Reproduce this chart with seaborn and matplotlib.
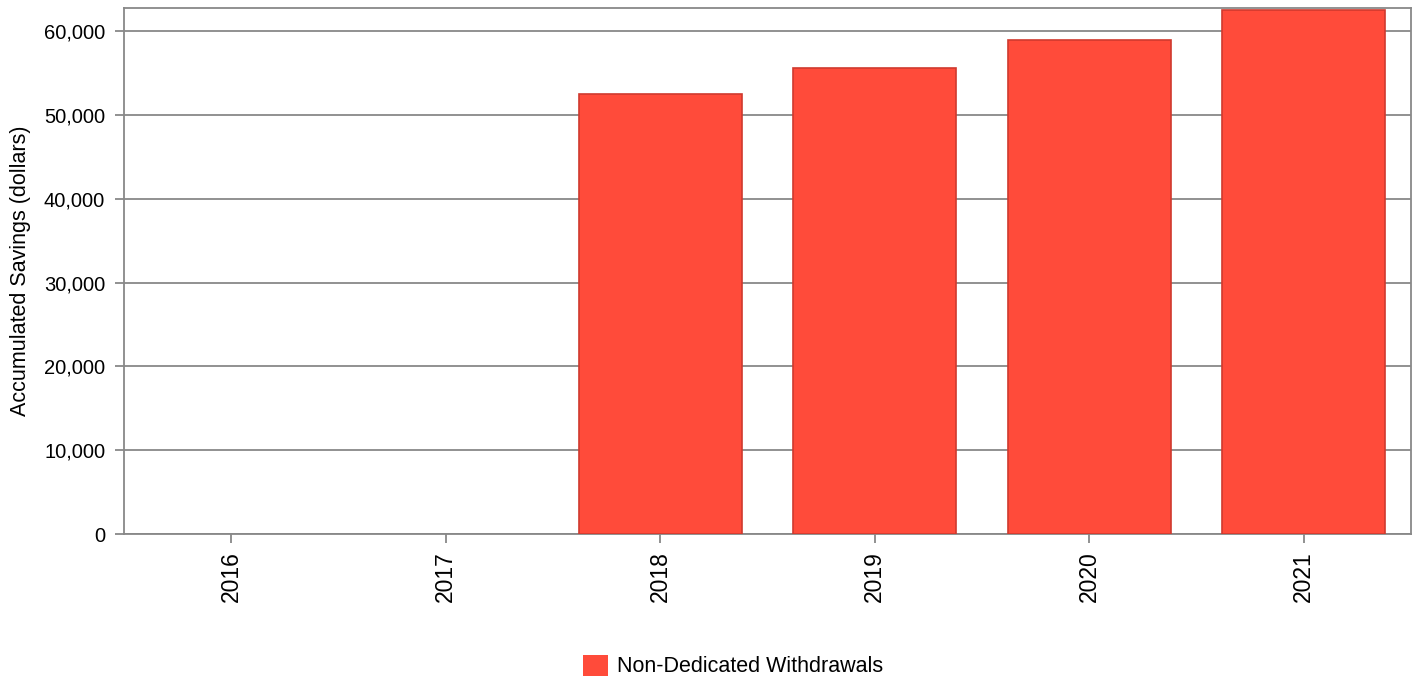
import matplotlib
matplotlib.use("Agg")
import matplotlib.pyplot as plt
import seaborn as sns
import pandas as pd
from matplotlib.ticker import FuncFormatter

years = ["2016", "2017", "2018", "2019", "2020", "2021"]
savings = [0, 0, 52450, 55550, 58890, 62470]
series = "Non-Dedicated Withdrawals"
yticks = [0, 10000, 20000, 30000, 40000, 50000, 60000]

df = pd.DataFrame({"year": years, "value": savings, "series": [series] * len(years)})

sns.set_theme(style="white")
plt.rcParams["font.family"] = ["Liberation Sans", "DejaVu Sans"]
plt.rcParams["text.color"] = "black"

fig = plt.figure(figsize=(14.15, 6.77), dpi=100)
ax = fig.add_axes([0.0876, 0.2112, 0.9094, 0.7768])

sns.barplot(data=df, x="year", y="value", hue="series", palette=["#FF4B3A"],
            saturation=1, width=0.76, edgecolor="#D0392E", linewidth=1.2,
            ax=ax, zorder=3, legend=True)
for p in ax.patches:
    if p.get_height() == 0:
        p.set_linewidth(0)

ax.set_xlim(-0.5, 5.5)
ax.set_ylim(0, 62750)
ax.set_yticks(yticks)
ax.yaxis.set_major_formatter(FuncFormatter(lambda v, p: f"{int(v):,}"))
ax.grid(axis="y", color="#888888", linewidth=1.3, zorder=0)
ax.set_axisbelow(True)
for s in ax.spines.values():
    s.set_color("#888888")
    s.set_linewidth(1.3)
ax.tick_params(axis="both", which="both", length=6.5, width=1.3, color="#888888",
               labelcolor="black", bottom=True, left=True)
ax.tick_params(axis="y", labelsize=14.5, pad=7)
ax.tick_params(axis="x", labelrotation=90, labelsize=16.5, pad=6)
ax.set_xlabel("")
ax.set_ylabel("Accumulated Savings (dollars)", fontsize=15.5, labelpad=9,
              color="black")

leg = ax.legend(loc="center", bbox_to_anchor=(733 / 1415, 1 - 666 / 677),
                bbox_transform=fig.transFigure, frameon=False, fontsize=15.5,
                handlelength=1.15, handleheight=1.15, handletextpad=0.4,
                borderaxespad=0, borderpad=0)
for t in leg.get_texts():
    t.set_color("black")

fig.savefig("out.png", dpi=100)
